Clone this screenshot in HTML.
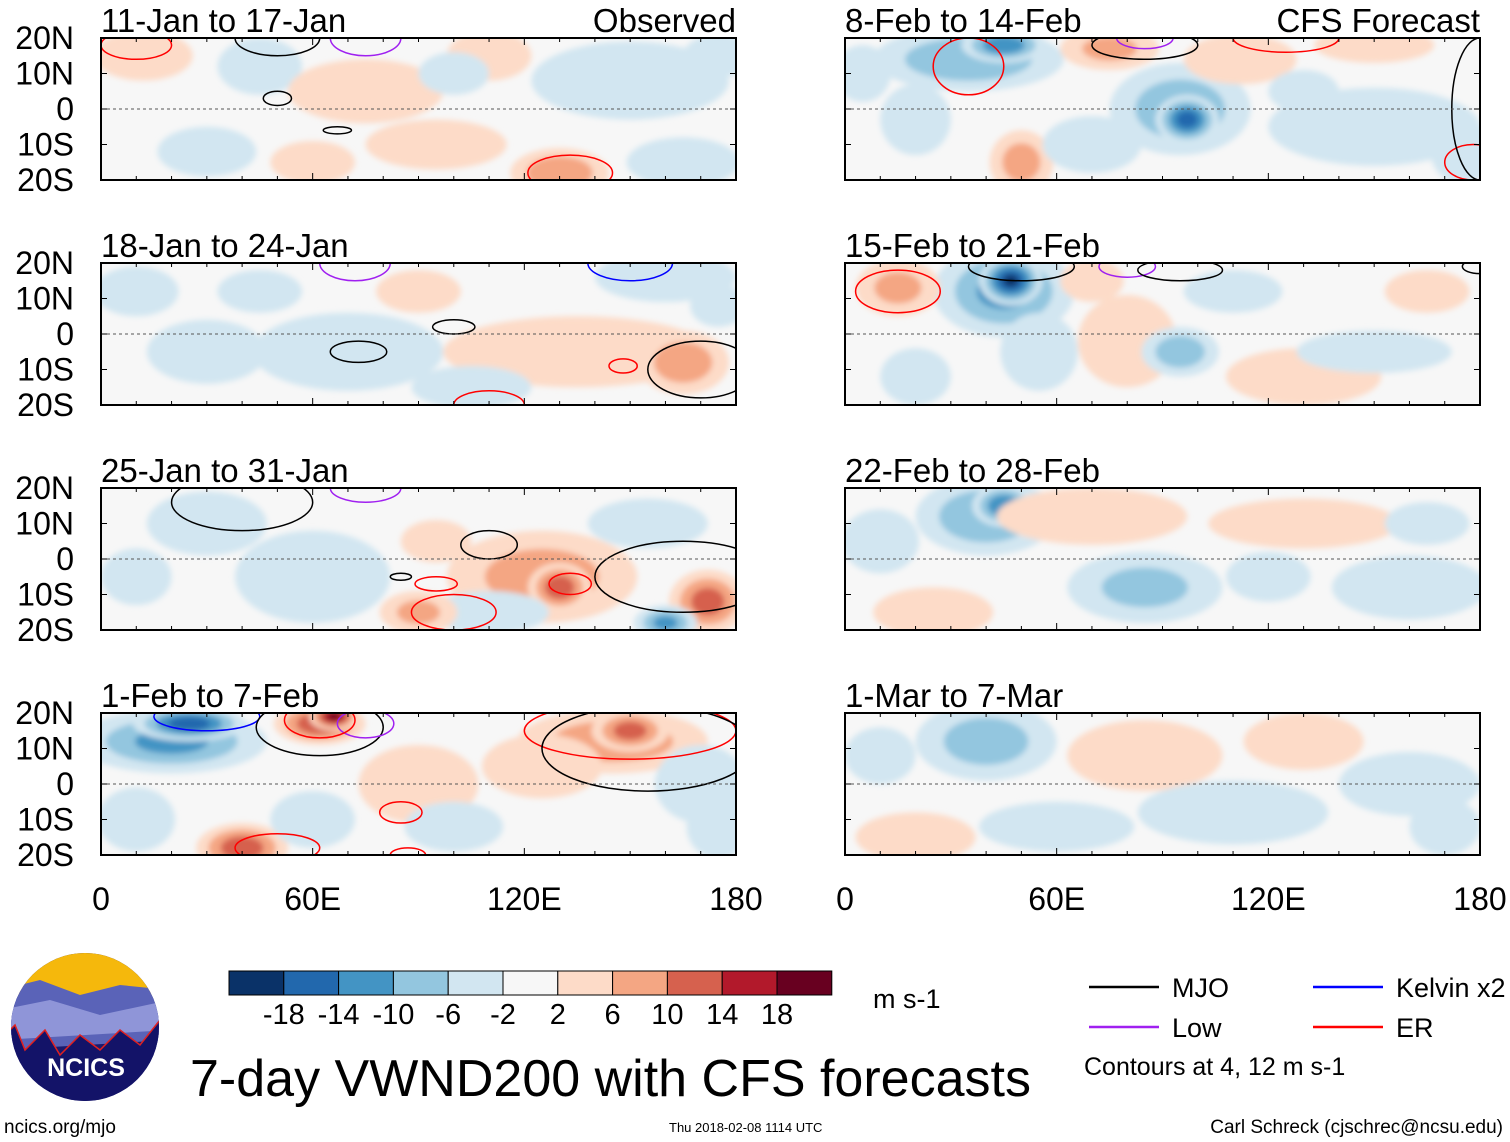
<!DOCTYPE html>
<html><head><meta charset="utf-8">
<style>
html,body{margin:0;padding:0;background:#fff;width:1510px;height:1142px;overflow:hidden;font-family:"Liberation Sans",sans-serif}
svg text{font-family:"Liberation Sans",sans-serif}
</style></head>
<body>
<svg id="fig" width="1510" height="1142" viewBox="0 0 1510 1142" xmlns="http://www.w3.org/2000/svg">
<defs>
<filter id="blur" x="-20%" y="-20%" width="140%" height="140%"><feGaussianBlur stdDeviation="3"/></filter>
</defs>
<g id="panels"></g>
<g id="bottom"></g>
</svg>
<script>
// ---- data ----
const panelTitles = ["11-Jan to 17-Jan","8-Feb to 14-Feb","18-Jan to 24-Jan","15-Feb to 21-Feb","25-Jan to 31-Jan","22-Feb to 28-Feb","1-Feb to 7-Feb","1-Mar to 7-Mar"];
const latTicks = [20,10,0,-10,-20];
const latLabels = ["20N","10N","0","10S","20S"];
const lonTicks = [0,60,120,180];
const lonLabels = ["0","60E","120E","180"];
const levels = [-18,-14,-10,-6,-2,2,6,10,14,18];
const levelColors = ["#0a3268","#2268ad","#4394c4","#93c6df","#d2e6f1","#f7f7f7","#fddbc8","#f4a683","#d6614e","#b2192b","#680020"];
// blobs per panel: [lon, lat, lonRadius, latRadius, value]
const blobs0 = [[12,15,14,7,5],[45,12,12,8,-4],[75,5,22,9,5],[95,-10,20,7,5],[130,-18,14,7,10],[150,8,28,11,-5],[165,-15,16,7,-5],[30,-12,14,7,-4],[110,15,12,7,5],[60,-15,12,6,4],[175,15,10,6,-4],[100,10,10,6,-3]];
const blobs1 = [[35,14,27,9,-10],[45,18,12,5,-14],[95,0,20,13,-9],[97,-3,9,7,-16],[20,-3,10,10,-6],[50,-15,9,9,8],[75,17,14,6,7],[112,14,16,7,6],[150,-5,30,11,-5],[150,18,17,5,5],[175,-12,9,9,-5],[5,10,8,8,-4],[70,-10,14,8,-4],[130,5,10,6,-4]];
const blobs2 = [[135,-5,38,10,6],[165,-8,13,9,9],[160,16,20,7,-6],[30,-5,17,9,-4],[70,-5,27,11,-3],[105,-15,17,6,-4],[10,12,12,7,-4],[45,12,12,6,-3],[90,12,12,6,4],[175,8,8,6,-4]];
const blobs3 = [[45,12,20,13,-11],[47,15,9,7,-19],[55,-5,11,11,-5],[15,13,12,8,7],[80,-2,14,13,5],[95,-5,11,7,-9],[130,-12,22,8,4],[150,-5,22,6,-5],[70,15,9,6,6],[20,-12,10,8,-3],[110,12,14,6,-3],[165,12,12,6,4]];
const blobs4 = [[125,-5,27,13,8],[130,-8,9,7,13],[172,-12,11,9,12],[160,-18,9,5,-11],[60,-5,22,13,-4],[30,10,17,9,-4],[110,-15,17,6,-4],[90,-15,11,6,7],[155,10,17,7,-4],[10,-5,10,8,-3],[95,5,10,6,4]];
const blobs5 = [[40,12,20,11,-10],[45,15,9,6,-14],[85,-8,22,10,-7],[70,12,27,8,5],[130,10,27,7,5],[25,-15,17,7,5],[10,5,11,9,-4],[160,-8,22,9,-4],[120,-5,12,7,-3],[165,10,12,6,-3]];
const blobs6 = [[20,12,27,9,-11],[25,17,16,5,-17],[62,17,13,6,14],[66,19,7,4,19],[40,-18,13,7,13],[145,12,27,9,9],[150,15,11,6,12],[10,-10,11,9,-5],[90,0,17,11,4],[125,5,17,9,5],[170,0,13,11,-5],[175,-12,9,9,-6],[100,-12,14,7,-3],[60,-10,12,8,-3]];
const blobs7 = [[40,12,20,11,-8],[85,8,22,10,5],[130,12,17,8,6],[160,0,20,9,-5],[110,-8,27,9,-4],[20,-15,17,7,5],[60,-12,22,7,-4],[10,8,10,8,-3],[170,-12,10,8,-4]];
const blobSets = [blobs0,blobs1,blobs2,blobs3,blobs4,blobs5,blobs6,blobs7];
// contours per panel: [type, lon, lat, lonRadius, latRadius]
const cont0 = [["mjo",50,20,12,5],["low",75,20,10,5],["mjo",50,3,4,2],["mjo",67,-6,4,1],["er",10,18,10,4],["er",133,-18,12,5]];
const cont1 = [["er",35,12,10,8],["low",85,20,8,3],["mjo",85,18,15,4],["er",125,20,15,4],["er",178,-15,8,5],["mjo",180,0,8,20]];
const cont2 = [["low",72,20,10,5],["kel",150,20,12,5],["mjo",73,-5,8,3],["mjo",100,2,6,2],["mjo",170,-10,15,8],["er",110,-20,10,4],["er",148,-9,4,2]];
const cont3 = [["er",15,12,12,6],["mjo",50,19,15,4],["low",80,19,8,3],["mjo",95,18,12,3],["mjo",180,19,5,2]];
const cont4 = [["mjo",40,16,20,8],["low",75,20,10,4],["mjo",110,4,8,4],["mjo",165,-5,25,10],["er",95,-7,6,2],["er",100,-15,12,5],["er",133,-7,6,3],["mjo",85,-5,3,1]];
const cont5 = [];
const cont6 = [["kel",30,19,15,4],["mjo",62,16,18,8],["low",75,17,8,4],["er",62,18,10,5],["er",150,15,30,8],["mjo",155,10,30,12],["er",85,-8,6,3],["er",87,-20,5,2],["er",50,-18,12,4]];
const cont7 = [];
const contSets = [cont0,cont1,cont2,cont3,cont4,cont5,cont6,cont7];
const contColors = {mjo:"#000000",low:"#a020f0",kel:"#0000ff",er:"#ff0000"};

const NS="http://www.w3.org/2000/svg";
function mk(tag,attrs,parent){const e=document.createElementNS(NS,tag);for(const k in attrs)e.setAttribute(k,attrs[k]);parent.appendChild(e);return e;}
function colorFor(v){let i=0;while(i<levels.length&&v>levels[i])i++;return levelColors[i];}
const P=document.getElementById('panels');
const colX=[101,845], rowY=[38,263,488,713], W=635, H=142;
panelTitles.forEach((t,i)=>{
  const col=i%2,row=Math.floor(i/2);
  const x0=colX[col], y0=rowY[row];
  const xs=lon=>x0+lon/180*W, ys=lat=>y0+(20-lat)/40*H;
  const g=mk('g',{},P);
  
  
  const cp=mk('clipPath',{id:'cp'+i},g);
  mk('rect',{x:x0,y:y0,width:W,height:H},cp);
  const body=mk('g',{'clip-path':'url(#cp'+i+')'},g);
  mk('rect',{x:x0,y:y0,width:W,height:H,fill:'#f7f7f7'},body);
  const fg=mk('g',{filter:'url(#blur)'},body);
  blobSets[i].forEach(b=>{
    const [lon,lat,rl,rt,v]=b;
    const sgn=v<0?-1:1;
    const steps=[2,6,10,14,18].filter(l=>Math.abs(v)>l);
    steps.forEach(l=>{
      const f=1-(l-2)/(Math.abs(v)+2);
      const e=mk('ellipse',{cx:xs(lon),cy:ys(lat),rx:rl/180*W*f,ry:rt/40*H*f,fill:colorFor(sgn*(l+1))},fg);
      
      
    });
  });
  contSets[i].forEach(c=>{
    const [ty,lon,lat,rl,rt]=c;
    const e=mk('ellipse',{cx:xs(lon),cy:ys(lat),rx:rl/180*W,ry:rt/40*H,fill:'none',stroke:contColors[ty],'stroke-width':1.5},body);
    
    
  });
  mk('line',{x1:x0,x2:x0+W,y1:ys(0),y2:ys(0),stroke:'#555','stroke-width':1,'stroke-dasharray':'3,3'},body);
  const fr=mk('rect',{x:x0,y:y0,width:W,height:H,fill:'none',stroke:'#000','stroke-width':2},g);
  
  
  for(let lon=0;lon<=180;lon+=10){const L=lon%60==0?7:4;mk('line',{x1:xs(lon),x2:xs(lon),y1:y0,y2:y0+L,stroke:'#000'},g);mk('line',{x1:xs(lon),x2:xs(lon),y1:y0+H,y2:y0+H-L,stroke:'#000'},g);}
  latTicks.forEach(l=>{mk('line',{x1:x0,x2:x0+6,y1:ys(l),y2:ys(l),stroke:'#000'},g);mk('line',{x1:x0+W,x2:x0+W-6,y1:ys(l),y2:ys(l),stroke:'#000'},g);});
  const tt=mk('text',{x:x0,y:y0-6,'font-size':33},g);tt.textContent=t;
  
  
  if(col===0){latTicks.forEach((l,k)=>{const tx=mk('text',{x:74,y:ys(l)+11,'font-size':32,'text-anchor':'end'},g);tx.textContent=latLabels[k];
    
    });}
  if(row===0){const s=mk('text',{x:x0+W,y:y0-6,'font-size':33,'text-anchor':'end'},g);s.textContent=col===0?'Observed':'CFS Forecast';
    
    }
  if(row===3){lonTicks.forEach((l,k)=>{const tx=mk('text',{x:xs(l),y:910,'font-size':32,'text-anchor':'middle'},g);tx.textContent=lonLabels[k];
    
    });}
});
// bottom
const B=document.getElementById('bottom');
levelColors.forEach((c,k)=>{const r=mk('rect',{x:229+k*54.8,y:971,width:54.8,height:24,fill:c,stroke:'#000','stroke-width':1},B);
  
  });
levels.forEach((l,k)=>{const t=mk('text',{x:229+(k+1)*54.8,y:1024,'font-size':29,'text-anchor':'middle'},B);t.textContent=l;
  
  });
function txt(s,x,y,fs,anchor,name){const t=mk('text',{x:x,y:y,'font-size':fs,'text-anchor':anchor||'start'},B);t.textContent=s;return t;}
txt('m s-1',873,1008,27,'start','units-label');
txt('7-day VWND200 with CFS forecasts',190,1096,52,'start','chart-title');
txt('Contours at 4, 12 m s-1',1084,1075,25,'start','contour-note');
txt('ncics.org/mjo',4,1133,19,'start','site-url');
txt('Thu 2018-02-08 1114 UTC',669,1132,13,'start','timestamp');
txt('Carl Schreck (cjschrec@ncsu.edu)',1503,1133,19,'end','author-credit');
const leg=[['MJO','#000',1089,987],['Kelvin x2','#0000ff',1313,987],['Low','#a020f0',1089,1027],['ER','#ff0000',1313,1027]];
leg.forEach(l=>{const g=mk('g',{},B);
  mk('line',{x1:l[2],x2:l[2]+70,y1:l[3],y2:l[3],stroke:l[1],'stroke-width':2.5},g);
  const t=mk('text',{x:l[2]+83,y:l[3]+10,'font-size':27},g);t.textContent=l[0];});
// logo
const lg=mk('g',{},B);
const lcp=mk('clipPath',{id:'lc'},lg);
mk('ellipse',{cx:85,cy:1027,rx:74,ry:74},lcp);
const lgi=mk('g',{'clip-path':'url(#lc)'},lg);
mk('rect',{x:0,y:950,width:170,height:160,fill:'#1a1a6e'},lgi);
mk('rect',{x:0,y:950,width:170,height:45,fill:'#f5b80c'},lgi);
mk('path',{d:'M0 990 L40 980 L80 995 L120 985 L170 990 L170 1040 L0 1050Z',fill:'#5a63b8'},lgi);
mk('path',{d:'M0 1010 L50 1000 L100 1015 L170 1000 L170 1030 L0 1040Z',fill:'#8f95d8'},lgi);
mk('path',{d:'M0 1040 L15 1025 L25 1050 L45 1030 L60 1055 L80 1035 L100 1050 L120 1030 L140 1045 L160 1020 L170 1030 L170 1110 L0 1110Z',fill:'#131368',stroke:'#e02020','stroke-width':1.5},lgi);
const lt=mk('text',{x:86,y:1076,'font-size':25,'font-weight':'bold',fill:'#fff','text-anchor':'middle'},lg);lt.textContent='NCICS';
</script>
</body></html>
